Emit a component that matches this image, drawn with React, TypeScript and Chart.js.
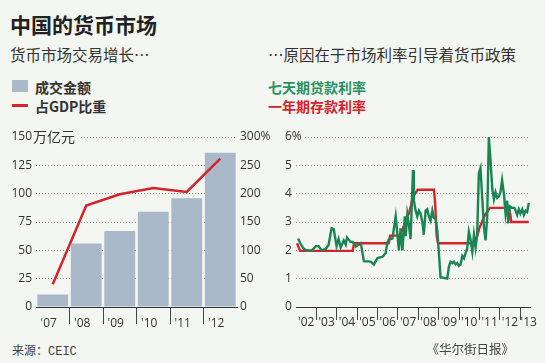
import React, { useEffect, useRef } from 'react';
import { Chart, registerables } from 'chart.js';

Chart.register(...registerables);

const BG = '#f3f6f1';
const NUM_FONT = '"Open Sans", "Noto Sans CJK SC", sans-serif';
const CJK_FONT = '"Noto Sans CJK SC", "Noto Sans", sans-serif';
const BAR_COLOR = '#a9b9c9';
const RED = '#d5232b';
const GREEN = '#1a8552';
const TEXT = '#333333';
const GRID = '#8c8c8c';

// Left chart: money-market turnover (trillion yuan) and share of GDP (%)
const years = ["'07", "'08", "'09", "'10", "'11", "'12"];
const turnover = [11, 56, 67, 84, 96, 136];
const gdpShare = [40, 179, 199, 210, 203, 262];
const turnoverTicks = [0, 25, 50, 75, 100, 125, 150];
const shareTicks = [0, 50, 100, 150, 200, 250, 300];

// Right chart: 7-day repo rate (%) and 1-year deposit rate (%)
const repoDates = [
  2002.10, 2002.25, 2002.38, 2002.54, 2002.78, 2002.97, 2003.11, 2003.26, 2003.46, 2003.60,
  2003.70, 2003.75, 2003.85, 2003.99, 2004.09, 2004.19, 2004.34, 2004.44, 2004.50, 2004.68,
  2004.79, 2004.93, 2005.18, 2005.33, 2005.66, 2005.82, 2005.99, 2006.10, 2006.24, 2006.31,
  2006.40, 2006.48, 2006.56, 2006.73, 2006.89, 2007.05, 2007.13, 2007.22, 2007.34, 2007.38,
  2007.46, 2007.54, 2007.62, 2007.74, 2007.78, 2007.87, 2007.95, 2008.03, 2008.11, 2008.20,
  2008.27, 2008.36, 2008.44, 2008.52, 2008.60, 2008.69, 2008.76, 2008.85, 2008.93, 2009.01,
  2009.09, 2009.42, 2009.50, 2009.58, 2009.67, 2009.75, 2009.83, 2009.91, 2009.99, 2010.07,
  2010.16, 2010.24, 2010.32, 2010.40, 2010.48, 2010.56, 2010.65, 2010.73, 2010.81, 2010.89,
  2010.97, 2011.05, 2011.14, 2011.22, 2011.30, 2011.38, 2011.46, 2011.54, 2011.63, 2011.71,
  2011.79, 2011.87, 2011.95, 2012.03, 2012.11, 2012.20, 2012.28, 2012.36, 2012.41, 2012.49,
  2012.60, 2012.72, 2012.85, 2012.93, 2013.01, 2013.10, 2013.18, 2013.26, 2013.34, 2013.42,
];
const repoRates = [
  2.42, 2.2, 2.05, 2.0, 2.0, 2.15, 2.15, 2.0, 2.05, 2.2,
  2.6, 2.78, 2.75, 2.15, 2.4, 2.1, 2.35, 2.2, 2.45, 2.3,
  2.3, 2.13, 2.25, 1.62, 1.6, 1.5, 1.72, 1.75, 1.77, 1.83,
  1.91, 2.27, 2.39, 2.42, 3.2, 2.0, 2.78, 2.0, 3.2, 2.5,
  3.27, 2.9, 2.4, 4.83, 3.76, 3.4, 3.2, 3.4, 3.3, 3.0,
  2.55, 3.4, 3.45, 3.2, 3.05, 3.4, 3.15, 3.1, 2.7, 1.9,
  1.05, 1.0, 1.42, 1.6, 1.55, 1.6, 1.5, 1.55, 1.45, 1.5,
  1.8, 1.72, 1.9, 2.07, 2.66, 2.4, 1.95, 2.55, 2.1, 2.6,
  4.72, 4.9, 3.8, 2.83, 2.35, 3.15, 6.0, 5.2, 4.17, 3.8,
  4.05, 3.85, 3.9, 4.05, 4.48, 4.0, 3.3, 3.75, 2.95, 3.55,
  3.5, 3.5, 3.25, 3.45, 3.3, 3.45, 3.25, 3.4, 3.35, 3.67,
];
const depositDates = [
  2002.05, 2002.2, 2004.78, 2004.85, 2006.55, 2006.62, 2007.1, 2007.25, 2007.4, 2007.55,
  2007.65, 2007.72, 2007.97, 2008.77, 2008.83, 2008.9, 2008.97, 2010.8, 2010.98, 2011.12,
  2011.27, 2011.52, 2012.44, 2012.52, 2012.56, 2013.42,
];
const depositRates = [
  2.25, 1.98, 1.98, 2.25, 2.25, 2.52, 2.52, 2.79, 3.06, 3.33,
  3.6, 3.87, 4.14, 4.14, 3.6, 2.52, 2.25, 2.25, 2.75, 3.0,
  3.25, 3.5, 3.5, 3.25, 3.0, 3.0,
];
const rateTicks = [0, 1, 2, 3, 4, 5, 6];
const rateLabelYears = [2002.5, 2003.5, 2004.5, 2005.5, 2006.5, 2007.5, 2008.5, 2009.5, 2010.5, 2011.5, 2012.5, 2013.42];
const rateLabels = ["'02", "'03", "'04", "'05", "'06", "'07", "'08", "'09", "'10", "'11", "'12", "'13"];
const yearBoundaries = [2003, 2004, 2005, 2006, 2007, 2008, 2009, 2010, 2011, 2012, 2013];

const tickFont = { family: NUM_FONT, size: 12 };

const unitPlugin = {
  id: 'unitLabel',
  afterDraw(chart: any) {
    const s = chart.scales.y;
    const y = s.getPixelForValue(150);
    const ctx = chart.ctx;
    const left = chart.chartArea.left;
    ctx.save();
    ctx.fillStyle = BG;
    ctx.fillRect(left, y - 3, 44, 6);
    ctx.fillStyle = TEXT;
    ctx.font = `14px ${CJK_FONT}`;
    ctx.textAlign = 'left';
    ctx.textBaseline = 'middle';
    ctx.fillText('万亿元', left - 3, y - 0.5);
    ctx.restore();
  },
};

const percentPlugin = {
  id: 'percentLabel',
  afterDraw(chart: any) {
    const s = chart.scales.y;
    const y = s.getPixelForValue(6);
    const ctx = chart.ctx;
    ctx.save();
    ctx.fillStyle = BG;
    ctx.fillRect(s.left, y - 3, chart.chartArea.left - s.left + 8, 6);
    ctx.fillStyle = TEXT;
    ctx.font = `12px ${NUM_FONT}`;
    ctx.textAlign = 'left';
    ctx.textBaseline = 'middle';
    ctx.fillText('6%', s.left, y);
    ctx.restore();
  },
};

function LeftChart() {
  const ref = useRef<HTMLCanvasElement>(null);
  useEffect(() => {
    const chart = new Chart(ref.current!, {
      type: 'bar',
      data: {
        labels: years,
        datasets: [
          {
            type: 'line',
            data: gdpShare,
            yAxisID: 'y1',
            borderColor: RED,
            borderWidth: 2.5,
            pointRadius: 0,
            tension: 0,
            order: 0,
          } as any,
          {
            type: 'bar',
            data: turnover,
            yAxisID: 'y',
            backgroundColor: BAR_COLOR,
            categoryPercentage: 1,
            barPercentage: 0.92,
            order: 1,
          },
        ],
      },
      options: {
        animation: false,
        responsive: false,
        maintainAspectRatio: false,
        layout: { padding: { top: 17, left: 0, right: 0, bottom: 0 } },
        plugins: { legend: { display: false }, tooltip: { enabled: false } },
        scales: {
          x: {
            type: 'category',
            offset: true,
            grid: {
              offset: true,
              drawOnChartArea: false,
              tickLength: 17,
              tickWidth: 1,
              tickColor: (ctx: any) => (ctx.index === undefined || ctx.index === 0 ? 'rgba(0,0,0,0)' : '#444'),
            },
            border: { display: true, color: '#333', width: 1, z: 1 },
            ticks: { font: tickFont, color: TEXT, padding: -8, labelOffset: -4, maxRotation: 0, autoSkip: false },
            afterFit: (s: any) => { s.height = 28; },
          },
          y: {
            position: 'left',
            min: 0,
            max: 150,
            afterBuildTicks: (s: any) => { s.ticks = turnoverTicks.map((v) => ({ value: v })); },
            ticks: { font: tickFont, color: TEXT, padding: 4 },
            grid: {
              drawTicks: false,
              lineWidth: 1,
              color: (ctx: any) => (ctx.tick && ctx.tick.value === 0 ? 'rgba(0,0,0,0)' : GRID),
            },
            border: { display: false, dash: [1, 2] },
            afterFit: (s: any) => { s.width = 36; },
          },
          y1: {
            position: 'right',
            min: 0,
            max: 300,
            afterBuildTicks: (s: any) => { s.ticks = shareTicks.map((v) => ({ value: v })); },
            ticks: {
              font: tickFont,
              color: TEXT,
              padding: 3,
              callback: (v: any) => (v === 300 ? '300%' : String(v)),
            },
            grid: { display: false, drawTicks: false },
            border: { display: false },
            afterFit: (s: any) => { s.width = 38; },
          },
        },
      } as any,
      plugins: [unitPlugin],
    });
    return () => chart.destroy();
  }, []);
  return (
    <canvas
      ref={ref}
      width={275}
      height={215}
      style={{ position: 'absolute', left: 0, top: 120, width: 275, height: 215 }}
    />
  );
}

function RightChart() {
  const ref = useRef<HTMLCanvasElement>(null);
  useEffect(() => {
    const allTicks = [...rateLabelYears, ...yearBoundaries].sort((a, b) => a - b);
    const chart = new Chart(ref.current!, {
      type: 'line',
      data: {
        datasets: [
          {
            data: repoDates.map((d, i) => ({ x: d, y: repoRates[i] })),
            borderColor: GREEN,
            borderWidth: 2.4,
            pointRadius: 0,
            tension: 0,
            order: 0,
          },
          {
            data: depositDates.map((d, i) => ({ x: d, y: depositRates[i] })),
            borderColor: RED,
            borderWidth: 2.4,
            pointRadius: 0,
            tension: 0,
            order: 1,
          },
        ],
      },
      options: {
        animation: false,
        responsive: false,
        maintainAspectRatio: false,
        layout: { padding: { top: 17, left: 15, right: 15, bottom: 0 } },
        plugins: { legend: { display: false }, tooltip: { enabled: false } },
        scales: {
          x: {
            type: 'linear',
            min: 2002,
            max: 2013.48,
            bounds: 'data',
            afterBuildTicks: (s: any) => { s.ticks = allTicks.map((v) => ({ value: v })); },
            ticks: {
              font: tickFont,
              color: TEXT,
              padding: -5,
              maxRotation: 0,
              autoSkip: false,
              callback: (v: any) => {
                const i = rateLabelYears.findIndex((y) => Math.abs(y - v) < 1e-6);
                return i >= 0 ? rateLabels[i] : '';
              },
            },
            grid: {
              drawOnChartArea: false,
              tickLength: 13,
              tickWidth: 1,
              tickColor: (ctx: any) => (ctx.tick && Number.isInteger(ctx.tick.value) ? '#444' : 'rgba(0,0,0,0)'),
            },
            border: { display: true, color: '#333', width: 1, z: 1 },
            afterFit: (s: any) => { s.height = 28; },
          },
          y: {
            min: 0,
            max: 6,
            afterBuildTicks: (s: any) => { s.ticks = rateTicks.map((v) => ({ value: v })); },
            ticks: {
              font: tickFont,
              color: TEXT,
              padding: 0,
              crossAlign: 'far',
              callback: (v: any) => (v === 6 ? '' : String(v)),
            },
            grid: {
              drawTicks: false,
              lineWidth: 1,
              color: (ctx: any) => (ctx.tick && ctx.tick.value === 0 ? 'rgba(0,0,0,0)' : GRID),
            },
            border: { display: false, dash: [1, 2] },
            afterFit: (s: any) => { s.width = 11; },
          },
        },
      } as any,
      plugins: [percentPlugin],
    });
    return () => chart.destroy();
  }, []);
  return (
    <canvas
      ref={ref}
      width={275}
      height={215}
      style={{ position: 'absolute', left: 270, top: 120, width: 275, height: 215 }}
    />
  );
}

const abs = (left: number, top: number, extra: React.CSSProperties = {}): React.CSSProperties => ({
  position: 'absolute',
  left,
  top,
  whiteSpace: 'nowrap',
  ...extra,
});

export default function App() {
  useEffect(() => {
    document.body.style.margin = '0';
  }, []);
  return (
    <div
      style={{
        position: 'absolute',
        left: 0,
        top: 0,
        width: 545,
        height: 363,
        background: BG,
        overflow: 'hidden',
        fontFamily: CJK_FONT,
        color: TEXT,
      }}
    >
      <div style={abs(10, 14, { fontSize: 21, lineHeight: '21px', fontWeight: 700, color: '#222' })}>中国的货币市场</div>
      <div style={abs(10, 46.5, { fontSize: 15.5, lineHeight: '15.5px' })}>货币市场交易增长…</div>
      <div style={abs(268, 46.5, { fontSize: 15.5, lineHeight: '15.5px' })}>…原因在于市场利率引导着货币政策</div>

      <div style={abs(12, 80, { width: 16, height: 12, background: BAR_COLOR })} />
      <div style={abs(35, 79.5, { fontSize: 14, lineHeight: '14px', fontWeight: 700 })}>成交金额</div>
      <div style={abs(12, 104, { width: 16, height: 3, background: RED })} />
      <div style={abs(35, 98.5, { fontSize: 14, lineHeight: '14px', fontWeight: 700 })}>占GDP比重</div>

      <div style={abs(268, 79.5, { fontSize: 14, lineHeight: '14px', fontWeight: 700, color: '#2a9160' })}>七天期贷款利率</div>
      <div style={abs(268, 98.5, { fontSize: 14, lineHeight: '14px', fontWeight: 700, color: RED })}>一年期存款利率</div>

      <LeftChart />
      <RightChart />

      <div style={abs(12, 343.5, { fontSize: 12, lineHeight: '12px', color: '#444' })}>
        来源：<span style={{ fontFamily: '"Liberation Mono", "DejaVu Sans Mono", monospace' }}>CEIC</span>
      </div>
      <div style={{ position: 'absolute', right: 31, top: 343, fontSize: 12.5, lineHeight: '12.5px', color: '#444', whiteSpace: 'nowrap' }}>
        《华尔街日报》
      </div>
    </div>
  );
}
